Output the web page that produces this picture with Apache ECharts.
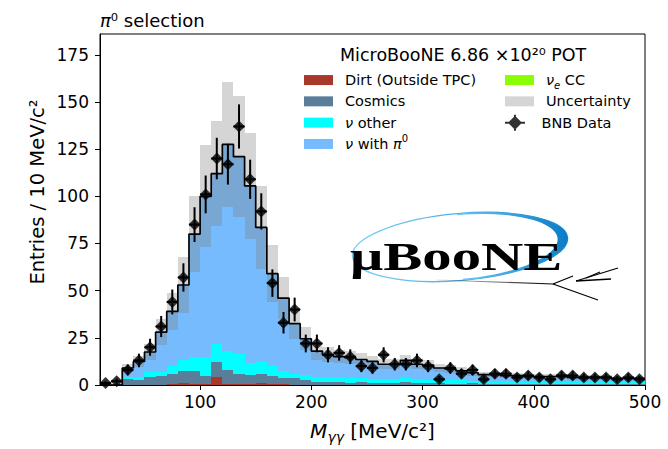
<!DOCTYPE html>
<html><head><meta charset="utf-8">
<script src="https://cdn.jsdelivr.net/npm/echarts@6/dist/echarts.min.js"></script>
<style>html,body{margin:0;padding:0;background:#fff}#c{width:668px;height:449px}</style>
</head><body><div id="c"></div>
<script>
// ---- data (10 MeV bins, left edges) ----
const binLeft = [10,20,30,40,50,60,70,80,90,100,110,120,130,140,150,160,170,180,190,200,210,220,230,240,250,260,270,280,290,300,310,320,330,340,350,360,370,380,390,400,410,420,430,440,450,460,470,480,490];
const binWidth = 10;
const dirt = [0,0,0,0,0,0,0.3,0.8,0.5,0.3,4.3,0.5,0.5,0.3,0.8,0.5,0.3,0,0, 0,0.2,0,0,0.2,0,0,0,0.2,0, 0,0,0,0,0,0,0,0,0,0, 0,0,0,0,0,0,0,0,0,0];
const cosmics = [0,0,3.2,2.8,4.0,4.6,5.5,6.8,6.7,4.3,8.0,7.7,5.3,5.1,5.0,4.1,3.4,3.7,2.8, 1.5,1.3,1.6,1.2,1.4,1.0,1.2,0.9,1.5,1.0, 0.8,0.9,0.7,0.6,0.8,0.5,0.7,0.5,0.6,0.4, 0.6,0.5,0.4,0.5,0.4,0.5,0.3,0.4,0.3,0.4];
const nuOther = [0,0,0.8,1.2,2.9,2.3,4.1,5.8,7.4,10.0,9.4,10.0,10.6,6.2,6.4,5.3,3.5,2.1,2.5, 2.5,2.6,2.4,2.5,2.2,2.3,2.0,2.1,2.0,2.2, 1.9,1.8,1.7,1.8,1.5,1.6,1.4,1.5,1.3,1.4, 1.2,1.3,1.4,1.2,1.1,1.2,1.2,1.0,1.1,1.0];
const nuPi0 = [0,0,5.0,8.5,10.6,21.1,29.1,39.6,65.4,85.4,90.1,109.0,104.3,93.6,71.1,49.1,38.8,26.7,19.2, 14,11.9,11,10.8,9.7,9.2,7.8,8,9.3,7.8, 7.8,6.3,6.1,5.1,4.2,3.4,3.4,3,3.1,2.7, 2.7,2.7,2.7,2.3,2.5,2.3,2.5,2.1,2.1,2.1];
const nueCC = [0,0,0,0,0,0,0,0,0,0,0.2,0.3,0.3,0.3,0.2,0,0,0,0, 0,0,0,0,0,0,0,0,0,0, 0,0,0,0,0,0,0,0,0,0, 0,0,0,0,0,0,0,0,0,0];
const mcUncertainty = [0,0,2,3,4,7,10,15,20,27,28,33,32,28,22,15,11,8,6, 4.5,4,3.5,3.5,3.2,3,2.7,2.7,3,2.6, 2.5,2.2,2,1.8,1.6,1.4,1.4,1.3,1.3,1.2, 1.2,1.2,1.2,1.1,1.1,1.1,1.1,1,1,1];
const dataCounts = [1,2,8,13,20,31,44,57,85,101,120,117,137,109,92,54,33,40,22, 22,16,17,15,10,9,16,11,11,13, 10,3,9,6,8,3,6,6,4,5, 4,3,5,5,4,4,4,3,4,3];
const dataErrors = [1,1.4,2.8,3.6,4.5,5.6,6.6,7.5,9.2,10,11,10.8,11.7,10.4,9.6,7.3,5.7,6.3,4.7, 4.7,4,4.1,3.9,3.2,3,4,3.3,3.3,3.6, 3.2,1.7,3,2.4,2.8,1.7,2.4,2.4,2,2.2, 2,1.7,2.2,2.2,2,2,2,1.7,2,1.7];
const xTicks = [100,200,300,400,500];
const yTicks = [0,25,50,75,100,125,150,175];

const FONT = 'DejaVu Sans';
const layers = [
  {name:'Dirt (Outside TPC)', values:dirt, color:'#a8392a'},
  {name:'Cosmics', values:cosmics, color:'#5a7d9a'},
  {name:'ν other', values:nuOther, color:'#00ffff'},
  {name:'ν with π0', values:nuPi0, color:'#75bbfd'},
  {name:'νe CC', values:nueCC, color:'#89fe05'}
];
const bandColor = 'rgba(128,128,128,0.33)';

function rectItem(params, api){
  const p0 = api.coord([api.value(0), api.value(2)]);
  const p1 = api.coord([api.value(1), api.value(3)]);
  const x0 = Math.round(p0[0]), x1 = Math.round(p1[0]);
  const yb = Math.round(p0[1]), yt = Math.round(p1[1]);
  return {type:'rect', shape:{x:x0, y:yt, width:x1-x0, height:yb-yt}, style:{fill:api.visual('color')}};
}
function errItem(params, api){
  const x = api.value(0), y = api.value(1), e = api.value(2), hw = api.value(3);
  const c = api.coord([x, y]);
  const t = api.coord([x, y + e]);
  const b = api.coord([x, y - e]);
  const l = api.coord([x - hw, y]);
  const r = api.coord([x + hw, y]);
  return {type:'group', children:[
    {type:'line', shape:{x1:c[0], y1:t[1], x2:c[0], y2:b[1]}, style:{stroke:'#000', lineWidth:2}},
    {type:'line', shape:{x1:l[0], y1:c[1], x2:r[0], y2:c[1]}, style:{stroke:'#000', lineWidth:2}}
  ]};
}

const nB = binLeft.length;
const cum = new Array(nB).fill(0);
const series = [];
layers.forEach(L => {
  const data = binLeft.map((x, i) => { const y0 = cum[i]; const y1 = y0 + L.values[i]; cum[i] = y1; return [x, x + binWidth, y0, y1]; });
  series.push({type:'custom', name:L.name, renderItem:rectItem, data, encode:{x:[0,1], y:[2,3]}, itemStyle:{color:L.color}, z:2, clip:true, silent:true});
});
const total = cum.slice();
series.push({type:'custom', name:'Uncertainty', renderItem:rectItem,
  data: binLeft.map((x, i) => [x, x + binWidth, total[i] - mcUncertainty[i], total[i] + mcUncertainty[i]]),
  encode:{x:[0,1], y:[2,3]}, itemStyle:{color:bandColor}, z:3, clip:true, silent:true});
const stepData = binLeft.map((x, i) => [x, total[i]]);
stepData.push([binLeft[nB-1] + binWidth, total[nB-1]]);
series.push({type:'line', name:'MC total', data:stepData, step:'end', showSymbol:false, symbol:'none',
  lineStyle:{color:'#000', width:1.7}, z:4, clip:true, silent:true});
series.push({type:'custom', name:'BNB errors', renderItem:errItem,
  data: binLeft.map((x, i) => [x + binWidth/2, dataCounts[i], dataErrors[i], binWidth/2]),
  encode:{x:0, y:1}, z:5, clip:true, silent:true});
series.push({type:'scatter', name:'BNB Data', data: binLeft.map((x, i) => [x + binWidth/2, dataCounts[i]]),
  symbol:'diamond', symbolSize:12, itemStyle:{color:'#000'}, z:6, clip:true, silent:true});

const legendText = {
  fontSize:14.5, fontFamily:FONT, color:'#000', lineHeight:21.3, padding:[0,0,0,7],
  rich:{
    n:{fontStyle:'italic', fontSize:14.5, fontFamily:FONT, lineHeight:21.3, color:'#000'},
    t:{fontSize:14.5, fontFamily:FONT, lineHeight:21.3, color:'#000'},
    s:{fontStyle:'italic', fontSize:10, fontFamily:FONT, lineHeight:13, verticalAlign:'bottom', color:'#000'},
    p:{fontSize:10, fontFamily:FONT, lineHeight:13, verticalAlign:'top', color:'#000'}
  }
};
const legendLabels = {
  'ν other':'{n|ν}{t| other}',
  'ν with π0':'{n|ν}{t| with }{n|π}{p|0}',
  'νe CC':'{n|ν}{s|e}{t| CC}'
};
const fmt = name => legendLabels[name] || name;
const legTop = 69.4;

// crescent (logo swoosh) outline points, local coordinates
const crescent = [];
for (let k = 0; k <= 40; k++) { const a = -Math.PI/2 + Math.PI*k/40; crescent.push([108*Math.cos(a), 33.5*Math.sin(a)]); }
for (let k = 40; k >= 0; k--) { const a = -Math.PI/2 + Math.PI*k/40; crescent.push([98*Math.cos(a), 32*Math.sin(a)]); }

const option = {
  animation:false,
  backgroundColor:'#fff',
  title:[
    {text:'{p|π}⁰ selection', left:100, top:9, padding:0,
     textStyle:{fontSize:18, fontWeight:'normal', color:'#000', fontFamily:FONT, lineHeight:22,
       rich:{p:{fontStyle:'italic', fontSize:18, fontFamily:FONT, lineHeight:22, color:'#000'}}}},
    {text:'MicroBooNE 6.86 ×10²⁰ POT', left:340, top:44, padding:0,
     textStyle:{fontSize:17.5, fontWeight:'normal', color:'#000', fontFamily:FONT, lineHeight:22}}
  ],
  legend:[
    {orient:'vertical', left:304, top:legTop, padding:0, itemGap:0, itemWidth:29, itemHeight:10, selectedMode:false,
     textStyle:legendText, formatter:fmt,
     data:layers.slice(0,4).map(L => ({name:L.name, icon:'rect', itemStyle:{color:L.color}}))},
    {orient:'vertical', left:505, top:legTop, padding:0, itemGap:0, itemWidth:29, itemHeight:10, selectedMode:false,
     textStyle:legendText, formatter:fmt,
     data:[{name:'νe CC', icon:'rect', itemStyle:{color:layers[4].color}},
           {name:'Uncertainty', icon:'rect', itemStyle:{color:bandColor}}]},
    {orient:'vertical', left:505, top:legTop + 2*21.3, padding:0, itemGap:0, itemWidth:29, itemHeight:16, selectedMode:false,
     textStyle:legendText, formatter:fmt,
     data:[{name:'BNB Data', icon:'path://M10,1L17,8L10,15L3,8Z M0,7H20V9H0Z M9,0H11V16H9Z', itemStyle:{color:'#000'}}]}
  ],
  grid:{left:100, right:23, top:34, bottom:62, show:true, borderColor:'#000', borderWidth:1, backgroundColor:'transparent'},
  xAxis:{type:'value', min:10, max:500,
    axisLine:{show:true, onZero:false, lineStyle:{color:'#000', width:1}},
    axisTick:{show:true, length:5, customValues:xTicks, lineStyle:{color:'#000', width:1}},
    axisLabel:{customValues:xTicks, color:'#000', fontSize:17, fontFamily:FONT, margin:8},
    splitLine:{show:false},
    name:'{i|M}{s|γγ}{t| [MeV/c²]}', nameLocation:'middle', nameGap:33,
    nameTextStyle:{fontSize:20, color:'#000', fontFamily:FONT, lineHeight:26,
      rich:{i:{fontStyle:'italic', fontSize:20, fontFamily:FONT, lineHeight:26, color:'#000'},
            s:{fontStyle:'italic', fontSize:14, fontFamily:FONT, lineHeight:16, verticalAlign:'bottom', color:'#000'},
            t:{fontSize:20, fontFamily:FONT, lineHeight:26, color:'#000'}}}
  },
  yAxis:{type:'value', min:0, max:186,
    axisLine:{show:true, lineStyle:{color:'#000', width:1}},
    axisTick:{show:true, length:5, customValues:yTicks, lineStyle:{color:'#000', width:1}},
    axisLabel:{customValues:yTicks, color:'#000', fontSize:17, fontFamily:FONT, margin:11},
    splitLine:{show:false}
  },
  graphic:[
    {type:'text', x:37, y:192, rotation:Math.PI/2, silent:true,
     style:{text:'Entries / 10 MeV/c²', fontSize:19.5, fontFamily:FONT, fill:'#000', align:'center', verticalAlign:'middle'}},
    {type:'group', x:460, y:247, rotation:0.087, silent:true, children:[
      {type:'ellipse', shape:{cx:0, cy:0, rx:108, ry:33.5},
       style:{fill:'none', lineWidth:1.3, stroke:{type:'linear', x:0, y:0, x2:1, y2:0, colorStops:[{offset:0, color:'#7fd0f7'}, {offset:1, color:'#1a8fd6'}]}}},
      {type:'polygon', shape:{points:crescent},
       style:{fill:{type:'linear', x:0, y:0, x2:1, y2:0, colorStops:[{offset:0, color:'#6cc6f2'}, {offset:1, color:'#0a7cc6'}]}}}
    ]},
    {type:'text', x:350, y:256, scaleX:1.43, silent:true,
     style:{text:'μBooNE', fontSize:41, fontWeight:'bold', fontFamily:'Liberation Serif', fill:'#000', align:'left', verticalAlign:'middle'}},
    {type:'line', silent:true, shape:{x1:437, y1:280, x2:553, y2:284},
     style:{lineWidth:1.2, stroke:{type:'linear', x:0, y:0, x2:1, y2:0, colorStops:[{offset:0, color:'rgba(0,0,0,0.1)'}, {offset:1, color:'#000'}]}}},
    {type:'line', silent:true, shape:{x1:553, y1:284, x2:573, y2:276}, style:{stroke:'#000', lineWidth:1.3}},
    {type:'line', silent:true, shape:{x1:553, y1:284, x2:598, y2:300}, style:{stroke:'#000', lineWidth:1.3}},
    {type:'line', silent:true, shape:{x1:576, y1:281, x2:618, y2:268}, style:{stroke:'#000', lineWidth:1.3}},
    {type:'line', silent:true, shape:{x1:576, y1:281, x2:611, y2:279}, style:{stroke:'#000', lineWidth:1.3}},
    {type:'line', silent:true, shape:{x1:586, y1:278, x2:600, y2:272}, style:{stroke:'#000', lineWidth:1.3}}
  ],
  series
};
const chart = echarts.init(document.getElementById('c'), null, {renderer:'svg', width:668, height:449});
chart.setOption(option);
</script>
</body></html>
